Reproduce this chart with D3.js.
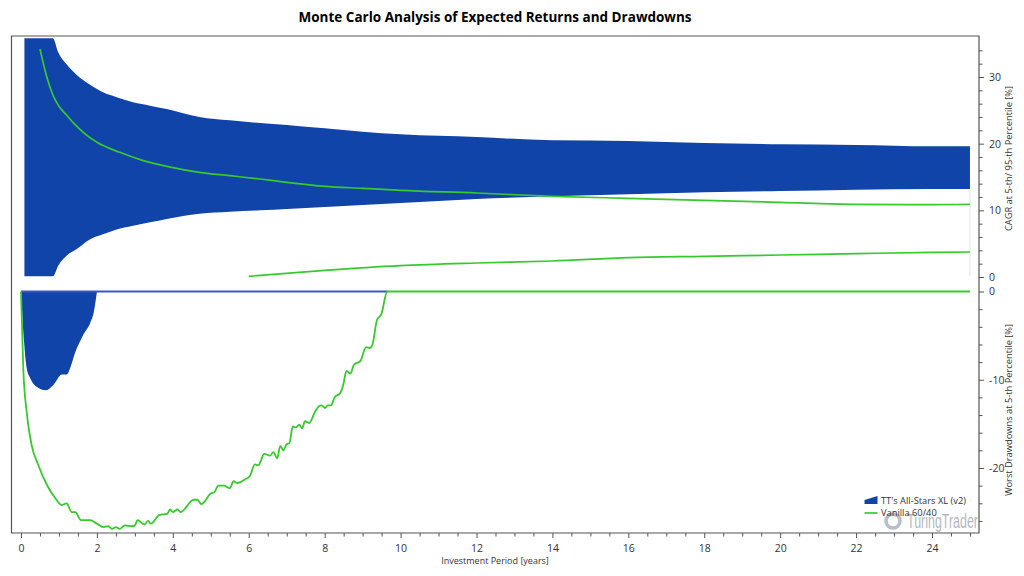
<!DOCTYPE html>
<html><head><meta charset="utf-8">
<script src="https://cdn.jsdelivr.net/npm/d3@7/dist/d3.min.js"></script>
<style>html,body{margin:0;padding:0;background:#fff}svg{display:block}text{font-family:"Open Sans","Noto Sans",sans-serif;fill:#333}</style>
</head><body><svg id="c" width="1024" height="576"></svg>
<script>
const titleText = "Monte Carlo Analysis of Expected Returns and Drawdowns";
const xLabel = "Investment Period [years]";
const topLabel = "CAGR at 5-th/ 95-th Percentile [%]";
const bottomLabel = "Worst Drawdowns at 5-th Percentile [%]";
const seriesNames = ["TT's All-Stars XL (v2)", "Vanilla 60/40"];
const bandYears = [0.09,0.84,0.98,1.2,1.47,1.8,2.16,2.5,2.95,3.4,3.84,4.7,5.5,6.3,7,8,9,10,12,14,16,18,20,22,24,25];
const bandHigh  = [35.8,35.8,33.7,31.9,30.3,28.9,27.7,27,26.2,25.7,25.2,24,23.5,23.1,22.8,22.3,21.8,21.4,21,20.5,20.4,20.1,19.9,19.8,19.6,19.6];
const bandLow   = [0.1,0.1,1.7,3.2,4.2,5.6,6.4,7.1,7.7,8.2,8.7,9.5,9.8,10,10.2,10.5,10.8,11.1,11.7,12.1,12.4,12.7,12.9,13.1,13.2,13.2];
const vanHighYears = [0.5,0.68,0.84,1.0,1.2,1.4,1.64,2,2.6,3.2,3.84,4.7,5.5,6.3,7,8,9,10,12,14,16,18,20,22,24,25];
const vanHigh = [34.2,30,27.3,25.6,24.3,23,21.7,20.2,18.7,17.5,16.6,15.7,15.2,14.7,14.2,13.6,13.3,13,12.6,12.1,11.8,11.5,11.2,10.9,10.85,10.9];
const vanLowYears = [6,8,10,12,14,16,18,20,22,24,25];
const vanLow = [0.1,1,1.7,2.1,2.4,2.9,3.1,3.3,3.5,3.7,3.75];
const ddBlueYears = [0,0.08,0.15,0.24,0.41,0.66,0.85,1.08,1.2,1.34,1.42,1.55,1.64,1.82,1.92,2];
const ddBlue = [0,-5.7,-8.7,-9.8,-10.8,-11.2,-10.6,-9.4,-9.4,-8.1,-7,-5.7,-4.9,-3.6,-2.3,0];
const ddBlueFlatYears = [0,9.65];
const ddBlueFlat = [0,0];
const ddVanYears = [0,0.06,0.15,0.28,0.45,0.68,0.9,1.07,1.2,1.34,1.43,1.58,1.82,2,2.17,2.3,2.4,2.5,2.6,2.74,2.92,3,3.07,3.25,3.35,3.42,3.65,3.85,3.93,4,4.12,4.2,4.55,4.65,4.75,5,5.1,5.2,5.35,5.5,5.6,5.7,5.9,6.03,6.16,6.25,6.41,6.56,6.65,6.75,6.83,6.91,7,7.07,7.16,7.24,7.33,7.41,7.48,7.59,7.75,7.85,7.92,8.01,8.08,8.17,8.26,8.41,8.5,8.57,8.68,8.77,8.94,9.09,9.19,9.26,9.38,9.49,9.65,25];
const ddVan = [0,-8.7,-13.7,-17.4,-19.6,-21.9,-23.4,-24.2,-24,-25,-25,-25.9,-25.9,-26.3,-26.7,-26.6,-26.9,-26.7,-26.9,-26.5,-26.6,-26.5,-25.9,-26.4,-26,-26.3,-25.3,-25.2,-24.7,-25,-24.7,-25,-23.6,-23.6,-24.1,-22.9,-22.7,-22,-22,-22.3,-21.5,-21.7,-21.3,-20.9,-19.6,-19.7,-18.4,-18.6,-18.2,-18.9,-17.5,-18,-17.3,-17.2,-15.3,-15.4,-15.1,-15.5,-14.7,-14.9,-13.6,-13,-12.9,-13.2,-12.9,-12.9,-12,-11.5,-10.4,-9,-9.3,-8.3,-7.9,-6.3,-6.4,-6,-3.2,-2.6,0,0];
const xTicks = d3.range(0,25.01,0.5);
const topTicks = d3.range(0,35,2);
const bottomTicks = d3.range(0,-27,-2);

const BLUE="#1144a8", GREEN="#38c92e", AXIS="#555";
const svg=d3.select("#c");
const x=d3.scaleLinear().domain([0,24]).range([21,932]);
const yT=d3.scaleLinear().domain([0,30]).range([277,77]);
const yB=d3.scaleLinear().domain([0,-20]).range([291.5,468]);
const curve=d3.curveMonotoneX;

// frame
svg.append("path").attr("d","M979,36H11.5V533H979Z").attr("fill","none").attr("stroke",AXIS).attr("stroke-width",1.2);

// top panel
svg.append("path").datum(bandYears).attr("fill",BLUE)
  .attr("d",d3.area().curve(curve).x(d=>x(d)).y0((d,i)=>yT(bandLow[i])).y1((d,i)=>yT(bandHigh[i])));
svg.append("line").attr("x1",x(25)).attr("x2",x(25)).attr("y1",yT(13.2)).attr("y2",yT(0.1)).attr("stroke","#dfe2ea").attr("stroke-width",1);
const pline=(xs,ys,sx,sy,col,w)=>svg.append("path").datum(xs).attr("fill","none").attr("stroke",col).attr("stroke-width",w).attr("stroke-linejoin","round")
  .attr("d",d3.line().curve(curve).x(d=>sx(d)).y((d,i)=>sy(ys[i])));
pline(vanHighYears,vanHigh,x,yT,GREEN,1.7);
pline(vanLowYears,vanLow,x,yT,GREEN,1.7);

// bottom panel
svg.append("path").datum(ddBlueYears).attr("fill",BLUE)
  .attr("d",d3.area().curve(curve).x(d=>x(d)).y0(yB(0)).y1((d,i)=>yB(ddBlue[i])));
pline(ddBlueFlatYears,ddBlueFlat,x,yB,"#3d56c2",2);
pline(ddVanYears,ddVan,x,yB,GREEN,1.8);

// axes
function styleAxis(g,isMajor,horizontal){
  g.select(".domain").remove();
  g.selectAll(".tick line").attr("stroke",AXIS).attr("stroke-width",1)
    .attr(horizontal?"y2":"x2",d=>isMajor(d)?5:3.5);
  g.selectAll(".tick text").attr("font-size",10.5).attr("fill","#333");
}
const xAxis=d3.axisBottom(x).tickValues(xTicks).tickFormat(d=>d%2===0?d:"").tickPadding(6);
svg.append("g").attr("transform","translate(0,533)").call(xAxis).call(g=>styleAxis(g,d=>d%2===0,true));
const tAxis=d3.axisRight(yT).tickValues(topTicks).tickFormat(d=>d%10===0?d:"").tickPadding(4);
svg.append("g").attr("transform","translate(979,0)").call(tAxis).call(g=>styleAxis(g,d=>d%10===0,false));
const bAxis=d3.axisRight(yB).tickValues(bottomTicks).tickFormat(d=>d%10===0?d:"").tickPadding(4);
svg.append("g").attr("transform","translate(979,0)").call(bAxis).call(g=>styleAxis(g,d=>d%10===0,false));

// text
svg.append("text").attr("x",495).attr("y",22).attr("text-anchor","middle").attr("font-size",13.5).attr("font-weight",700).style("fill","#000").text(titleText);
svg.append("text").attr("x",495).attr("y",564).attr("text-anchor","middle").attr("font-size",9).text(xLabel);
svg.append("text").attr("transform","translate(1012,158.5) rotate(-90)").attr("text-anchor","middle").attr("font-size",9.3).text(topLabel);
svg.append("text").attr("transform","translate(1012,410) rotate(-90)").attr("text-anchor","middle").attr("font-size",9.3).text(bottomLabel);

// watermark
svg.append("circle").attr("cx",893).attr("cy",521).attr("r",7).attr("fill","none").attr("stroke","#b9bdc6").attr("stroke-width",3.5);
svg.append("text").attr("x",907).attr("y",528).attr("font-size",20).style("font-family","'Liberation Sans Narrow','Liberation Sans',sans-serif").style("fill","#b4b8c0").attr("textLength",71).attr("lengthAdjust","spacingAndGlyphs").text("TuringTrader");

// legend
svg.append("path").attr("d","M864.5,504V500L877.5,496V504Z").attr("fill",BLUE);
svg.append("line").attr("x1",864.5).attr("x2",877.5).attr("y1",513).attr("y2",513).attr("stroke",GREEN).attr("stroke-width",1.7);
svg.append("text").attr("x",881).attr("y",504).attr("font-size",9.3).text(seriesNames[0]);
svg.append("text").attr("x",881).attr("y",516).attr("font-size",9.3).text(seriesNames[1]);
</script></body></html>
